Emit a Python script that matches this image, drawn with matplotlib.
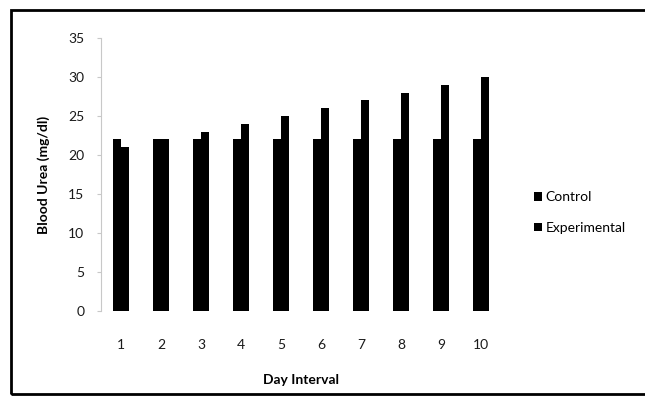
import matplotlib
matplotlib.use("Agg")
import matplotlib.pyplot as plt
from matplotlib.patches import Rectangle
import numpy as np

plt.rcParams['font.family'] = ['Lato', 'DejaVu Sans']

days = ["1", "2", "3", "4", "5", "6", "7", "8", "9", "10"]
control = [22, 22, 22, 22, 22, 22, 22, 22, 22, 22]
experimental = [21, 22, 23, 24, 25, 26, 27, 28, 29, 30]
series_names = ["Control", "Experimental"]
y_ticks = [0, 5, 10, 15, 20, 25, 30, 35]

fig = plt.figure(figsize=(6.45, 3.96), dpi=100)
ax = fig.add_axes([0.1566, 0.2146, 0.62, 0.6894])

x = np.arange(len(days)) + 0.5
w = 0.21
b1 = ax.bar(x - w / 2, control, width=w, color="black", label=series_names[0])
b2 = ax.bar(x + w / 2, experimental, width=w, color="black", label=series_names[1])

ax.set_xlim(0, len(days))
ax.set_ylim(0, 35)
ax.set_yticks(y_ticks)
ax.set_xticks(x)
ax.set_xticklabels(days)

for side in ("top", "right", "bottom"):
    ax.spines[side].set_visible(False)
ax.spines["left"].set_color("#c8c8c8")
ax.spines["left"].set_linewidth(0.8)

ax.tick_params(axis="y", direction="out", length=3, width=0.8, color="#c8c8c8",
               pad=9, labelsize=10, labelcolor="#1a1a1a")
ax.tick_params(axis="x", length=0, pad=20, labelsize=10, labelcolor="#1a1a1a")

ax.set_xlabel("Day Interval", fontsize=10, fontweight="bold", labelpad=17)
ax.set_ylabel("Blood Urea (mg/dl)", fontsize=10, fontweight="bold", labelpad=13)

ax.legend(handles=[b1, b2], loc="center left",
          bbox_to_anchor=(527 / 645, 0.463), bbox_transform=fig.transFigure,
          frameon=False, fontsize=10, handlelength=0.55, handleheight=0.55,
          handletextpad=0.3, labelspacing=1.35, borderpad=0)

# outer frame around the whole chart
fig.patches.append(Rectangle((11 / 645, 2 / 396), 1.0, 384 / 396,
                             transform=fig.transFigure, fill=False,
                             edgecolor="black", linewidth=2.0, clip_on=False))

fig.savefig("out.png", dpi=100)
